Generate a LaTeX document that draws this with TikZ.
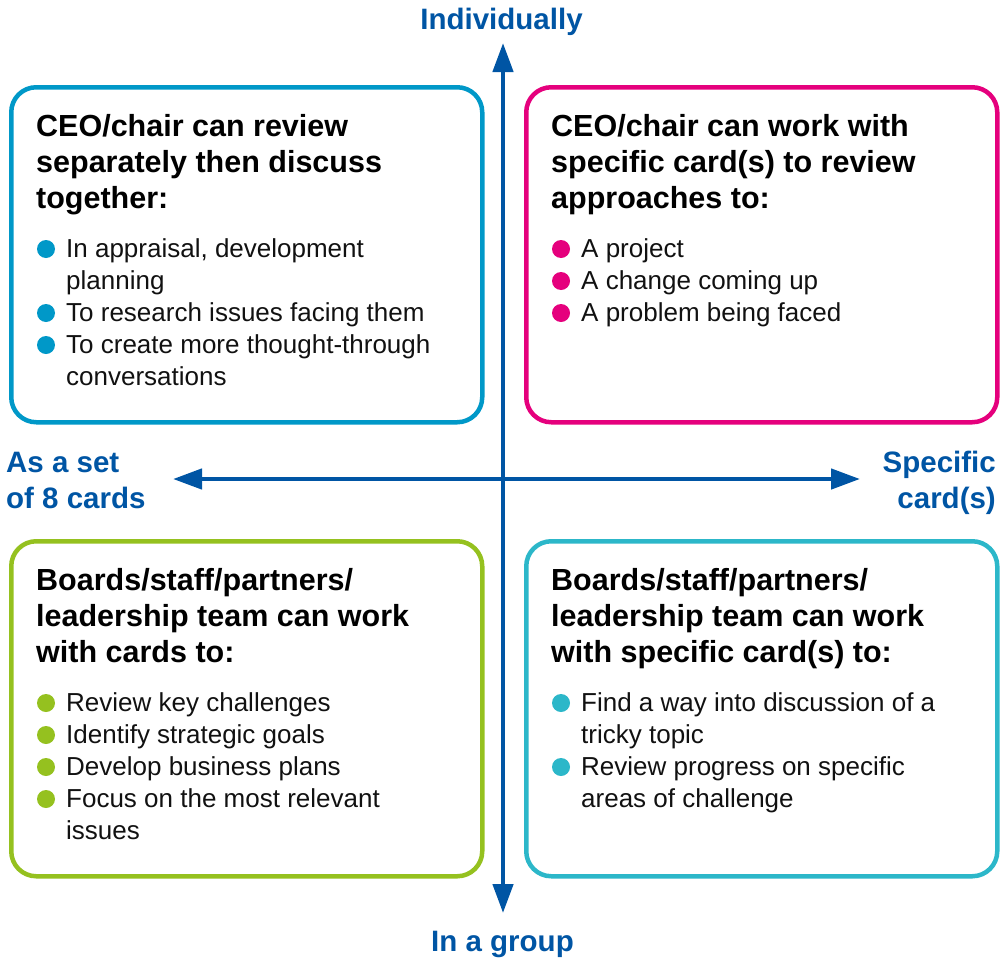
\documentclass[tikz,border=0pt]{standalone}
\usepackage{fontspec}
\setmainfont{Liberation Sans}
\usetikzlibrary{arrows.meta}
\definecolor{axisblue}{HTML}{0055A4}
\definecolor{tlcol}{HTML}{0098C8}
\definecolor{trcol}{HTML}{E5007D}
\definecolor{blcol}{HTML}{95C11F}
\definecolor{brcol}{HTML}{2CB7C9}
\definecolor{bodytext}{HTML}{111111}
\tikzset{
  quad/.style={line width=4.5pt, rounded corners=25pt, anchor=north west, inner sep=0pt,
    minimum width=471pt, minimum height=335pt},
  headline/.style={anchor=base west, inner sep=0pt, font=\fontsize{30.5}{36}\selectfont\bfseries, text=black},
  bodyline/.style={anchor=base west, inner sep=0pt, font=\fontsize{26}{32}\selectfont, text=bodytext},
  axislabel/.style={inner sep=0pt, font=\fontsize{29.5}{36}\selectfont\bfseries, text=axisblue},
  axisline/.style={line width=4.5pt, draw=axisblue,
    {Triangle[length=29pt,width=20pt]}-{Triangle[length=29pt,width=20pt]}},
  bulletdot/.style={circle, inner sep=0pt, minimum size=18pt},
}
\begin{document}
\begin{tikzpicture}[x=1pt,y=-1pt]
\useasboundingbox (0,0) rectangle (1008,958);

% quadrant boxes
\node[quad, draw=tlcol] (tl) at (9,85) {};
\node[quad, draw=trcol] (tr) at (524,85) {};
\node[quad, draw=blcol] (bl) at (9,539) {};
\node[quad, draw=brcol] (br) at (524,539) {};

% axes
\coordinate (axtop) at (503,43);
\coordinate (axbot) at (503,913);
\coordinate (axleft) at (173,479);
\coordinate (axright) at (860,479);
\draw[axisline] (axbot) -- (axtop);
\draw[axisline] (axleft) -- (axright);

% axis labels
\node[axislabel, anchor=base] (lbltop) at (501.5,29.5) {Individually};
\node[axislabel, anchor=base] (lblbot) at (502.5,951) {In a group};
\node[axislabel, anchor=base west] (lblleft1) at (6,472) {As a set};
\node[axislabel, anchor=base west] (lblleft2) at (6,508) {of 8 cards};
\node[axislabel, anchor=base east] (lblright1) at (996,472) {Specific};
\node[axislabel, anchor=base east] (lblright2) at (996,508) {card(s)};

% top left
\node[headline] (tlh1) at (36,136) {CEO/chair can review};
\node[headline] (tlh2) at (36,172) {separately then discuss};
\node[headline] (tlh3) at (36,208) {together:};
\node[bulletdot, fill=tlcol] (tld1) at (46,249) {};
\node[bulletdot, fill=tlcol] (tld2) at (46,313) {};
\node[bulletdot, fill=tlcol] (tld3) at (46,345) {};
\node[bodyline] (tlb1) at (66,257) {In appraisal, development};
\node[bodyline] (tlb2) at (66,289) {planning};
\node[bodyline] (tlb3) at (66,321) {To research issues facing them};
\node[bodyline] (tlb4) at (66,353) {To create more thought-through};
\node[bodyline] (tlb5) at (66,385) {conversations};

% top right
\node[headline] (trh1) at (551,136) {CEO/chair can work with};
\node[headline] (trh2) at (551,172) {specific card(s) to review};
\node[headline] (trh3) at (551,208) {approaches to:};
\node[bulletdot, fill=trcol] (trd1) at (561,249) {};
\node[bulletdot, fill=trcol] (trd2) at (561,281) {};
\node[bulletdot, fill=trcol] (trd3) at (561,313) {};
\node[bodyline] (trb1) at (581,257) {A project};
\node[bodyline] (trb2) at (581,289) {A change coming up};
\node[bodyline] (trb3) at (581,321) {A problem being faced};

% bottom left
\node[headline] (blh1) at (36,590) {Boards/staff/partners/};
\node[headline] (blh2) at (36,626) {leadership team can work};
\node[headline] (blh3) at (36,662) {with cards to:};
\node[bulletdot, fill=blcol] (bld1) at (46,703) {};
\node[bulletdot, fill=blcol] (bld2) at (46,735) {};
\node[bulletdot, fill=blcol] (bld3) at (46,767) {};
\node[bulletdot, fill=blcol] (bld4) at (46,799) {};
\node[bodyline] (blb1) at (66,711) {Review key challenges};
\node[bodyline] (blb2) at (66,743) {Identify strategic goals};
\node[bodyline] (blb3) at (66,775) {Develop business plans};
\node[bodyline] (blb4) at (66,807) {Focus on the most relevant};
\node[bodyline] (blb5) at (66,839) {issues};

% bottom right
\node[headline] (brh1) at (551,590) {Boards/staff/partners/};
\node[headline] (brh2) at (551,626) {leadership team can work};
\node[headline] (brh3) at (551,662) {with specific card(s) to:};
\node[bulletdot, fill=brcol] (brd1) at (561,703) {};
\node[bulletdot, fill=brcol] (brd2) at (561,767) {};
\node[bodyline] (brb1) at (581,711) {Find a way into discussion of a};
\node[bodyline] (brb2) at (581,743) {tricky topic};
\node[bodyline] (brb3) at (581,775) {Review progress on specific};
\node[bodyline] (brb4) at (581,807) {areas of challenge};
\end{tikzpicture}
\end{document}
